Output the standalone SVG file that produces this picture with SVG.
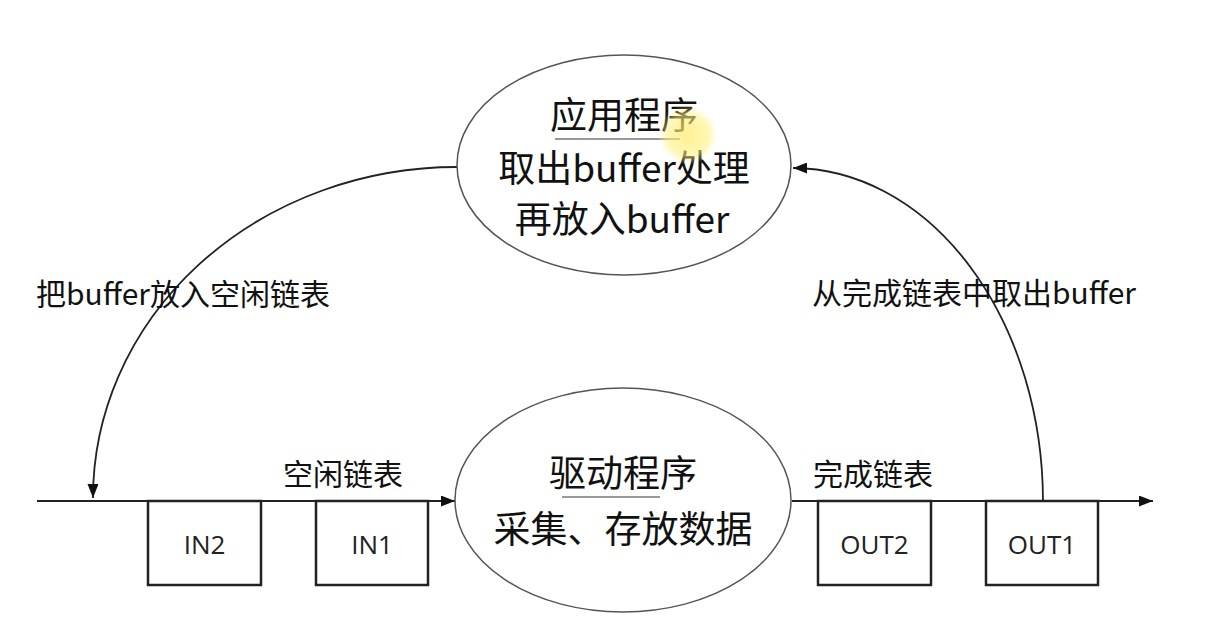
<svg xmlns="http://www.w3.org/2000/svg" width="1210" height="633" viewBox="0 0 1210 633">
<style>
.cjk{font-family:"Noto Sans CJK SC","Noto Sans",sans-serif;fill:#111;text-anchor:middle}
.lbl{font-family:"Noto Sans CJK SC","Noto Sans",sans-serif;fill:#111}
.box{fill:#fff;stroke:#222;stroke-width:2.5}
.boxt{font-family:"Open Sans","Noto Sans",sans-serif;font-size:26px;fill:#222;text-anchor:middle}
.ell{fill:#fff;stroke:#555;stroke-width:1.5}
.conn{fill:none;stroke:#222;stroke-width:1.8}
.ul{stroke:#999;stroke-width:2}
</style>
<defs>
<marker id="arr" viewBox="0 0 14 11" refX="14" refY="5.5" markerWidth="14" markerHeight="11" markerUnits="userSpaceOnUse" orient="auto">
<path d="M0,0 L14,5.5 L0,11 Z" fill="#111"/>
</marker>
<radialGradient id="hl">
<stop offset="0" stop-color="#ffec6e" stop-opacity="0.75"/>
<stop offset="0.7" stop-color="#fff07a" stop-opacity="0.55"/>
<stop offset="1" stop-color="#fff7b0" stop-opacity="0"/>
</radialGradient>
</defs>
<rect width="1210" height="633" fill="#fff"/>
<g id="connectors">
<line class="conn" x1="37" y1="501" x2="455" y2="501" marker-end="url(#arr)"/>
<line class="conn" x1="792" y1="501" x2="1153" y2="501" marker-end="url(#arr)"/>
<path class="conn" d="M457,167 A364,331 0 0 0 93,498" marker-end="url(#arr)"/>
<path class="conn" d="M1043,501 A251,334 0 0 0 793,168" marker-end="url(#arr)"/>
</g>
<g id="app">
<ellipse class="ell" cx="624" cy="165" rx="167" ry="110"/>
<text class="cjk" x="624" y="129" font-size="37">应用程序</text>
<line class="ul" x1="555" y1="139" x2="680" y2="139"/>
<text class="cjk" x="624" y="182" font-size="37">取出buffer处理</text>
<text class="cjk" x="622" y="233" font-size="37">再放入buffer</text>
</g>
<g id="driver">
<ellipse class="ell" cx="623" cy="500" rx="168" ry="112"/>
<text class="cjk" x="623" y="487" font-size="37">驱动程序</text>
<line class="ul" x1="562" y1="497" x2="660" y2="497"/>
<text class="cjk" x="623" y="543" font-size="37">采集、存放数据</text>
</g>
<g id="in2"><rect class="box" x="148" y="501" width="113" height="84"/><text class="boxt" x="204.5" y="554">IN2</text></g>
<g id="in1"><rect class="box" x="316" y="501" width="112" height="84"/><text class="boxt" x="372" y="554">IN1</text></g>
<g id="out2"><rect class="box" x="818" y="501" width="113" height="84"/><text class="boxt" x="874.5" y="554">OUT2</text></g>
<g id="out1"><rect class="box" x="986" y="501" width="112" height="84"/><text class="boxt" x="1042" y="554">OUT1</text></g>
<g id="labels">
<text class="lbl" x="36" y="305" font-size="30">把buffer放入空闲链表</text>
<text class="lbl" x="812" y="304" font-size="30">从完成链表中取出buffer</text>
<text class="lbl" x="283" y="485" font-size="30">空闲链表</text>
<text class="lbl" x="813" y="485" font-size="30">完成链表</text>
</g>
<circle cx="688" cy="135" r="30" fill="url(#hl)"/>
</svg>
